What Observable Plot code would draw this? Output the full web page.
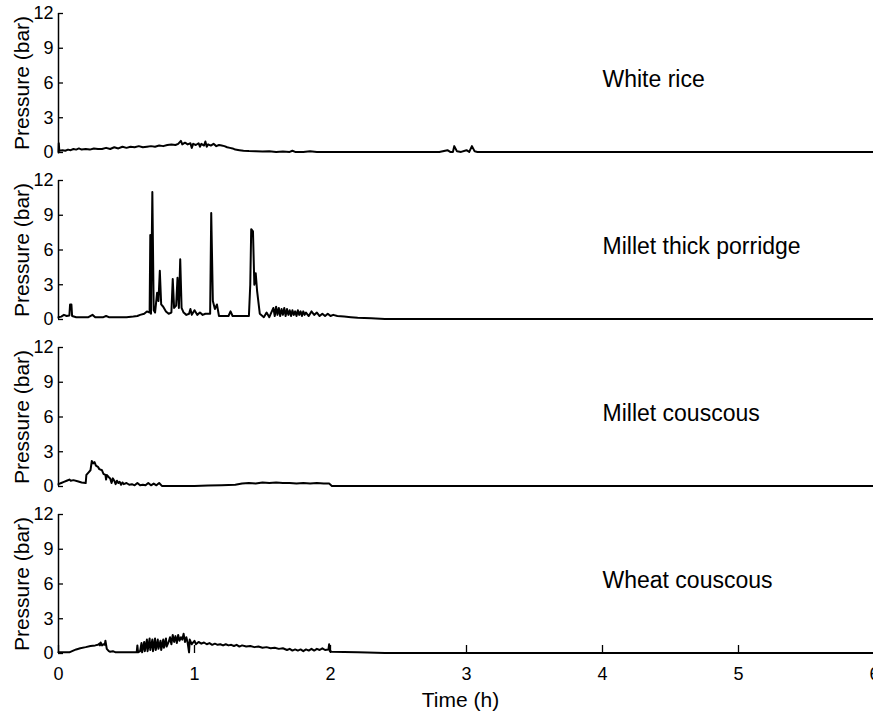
<!DOCTYPE html>
<html>
<head>
<meta charset="utf-8">
<script src="https://cdn.jsdelivr.net/npm/d3@7"></script>
<script src="https://cdn.jsdelivr.net/npm/@observablehq/plot@0.6"></script>
<style>
  html, body { margin: 0; padding: 0; background: #fff; overflow: hidden; }
  #chart svg { display: block; max-width: none !important; }
</style>
</head>
<body>
<div id="chart"></div>
<script>
const foods = ["White rice", "Millet thick porridge", "Millet couscous", "Wheat couscous"];
const timeTicks = [0, 1, 2, 3, 4, 5, 6];
const pressureTicks = [0, 3, 6, 9, 12];

// White rice
const riceT = [0.000,0.002,0.006,0.03,0.05,0.07,0.09,0.11,0.13,0.15,0.17,0.20,0.23,0.26,0.29,0.32,0.35,0.38,0.41,0.44,0.47,0.50,0.53,0.56,0.59,0.62,0.65,0.68,0.71,0.74,0.77,0.80,0.83,0.86,0.88,0.90,0.91,0.93,0.95,0.97,0.98,0.99,1.01,1.03,1.04,1.05,1.07,1.08,1.09,1.10,1.12,1.14,1.16,1.18,1.20,1.22,1.24,1.26,1.28,1.30,1.33,1.36,1.40,1.45,1.50,1.55,1.60,1.65,1.70,1.72,1.74,1.80,1.85,1.90,2.00,2.20,2.50,2.80,2.86,2.88,2.90,2.91,2.93,2.96,3.00,3.02,3.04,3.06,3.08,3.50,4.0,5.0,6.0];
const riceP = [0.0,0.8,0.15,0.2,0.15,0.25,0.2,0.3,0.25,0.35,0.25,0.3,0.25,0.35,0.3,0.3,0.4,0.3,0.45,0.35,0.5,0.4,0.5,0.45,0.55,0.45,0.5,0.55,0.5,0.6,0.55,0.65,0.7,0.65,0.75,1.0,0.7,0.85,0.7,0.8,0.4,0.75,0.65,0.8,0.5,0.75,0.6,0.95,0.5,0.7,0.6,0.75,0.55,0.65,0.6,0.55,0.45,0.4,0.35,0.25,0.2,0.15,0.12,0.1,0.08,0.1,0.05,0.08,0.05,0.15,0.05,0.05,0.1,0.05,0.05,0.04,0.04,0.04,0.2,0.05,0.05,0.55,0.1,0.05,0.2,0.05,0.55,0.1,0.05,0.04,0.04,0.04,0.04];

// Millet thick porridge
const porridgeT = [0.000,0.02,0.04,0.06,0.08,0.085,0.095,0.10,0.13,0.18,0.22,0.25,0.27,0.33,0.35,0.37,0.45,0.50,0.55,0.58,0.60,0.63,0.65,0.67,0.675,0.68,0.69,0.70,0.71,0.725,0.735,0.745,0.755,0.77,0.79,0.81,0.83,0.84,0.85,0.865,0.875,0.885,0.895,0.905,0.92,0.94,0.96,0.97,0.98,1.00,1.02,1.04,1.06,1.08,1.10,1.115,1.123,1.135,1.15,1.165,1.18,1.22,1.25,1.265,1.28,1.35,1.40,1.41,1.417,1.43,1.44,1.45,1.46,1.48,1.51,1.53,1.55,1.58,1.59,1.60,1.61,1.62,1.63,1.64,1.65,1.66,1.67,1.68,1.69,1.70,1.71,1.72,1.73,1.74,1.75,1.76,1.77,1.78,1.79,1.80,1.81,1.82,1.84,1.86,1.88,1.90,1.92,1.94,1.96,1.98,2.00,2.02,2.05,2.10,2.15,2.20,2.30,2.40,3.0,4.0,5.0,6.0];
const porridgeP = [0.2,0.25,0.4,0.3,0.35,1.3,1.3,0.3,0.2,0.2,0.2,0.4,0.2,0.2,0.3,0.2,0.2,0.2,0.25,0.3,0.4,0.5,0.7,0.6,7.3,0.5,11.0,0.8,0.6,2.3,1.6,4.2,1.3,1.1,0.7,0.5,0.6,3.5,1.0,1.2,3.6,1.0,5.2,1.0,0.6,0.4,0.5,0.9,0.4,0.8,0.4,0.6,0.4,0.5,0.5,0.5,9.2,1.6,0.9,1.3,0.3,0.3,0.3,0.7,0.3,0.3,0.3,3.0,7.8,7.6,3.0,4.0,2.5,0.5,0.2,0.6,0.2,1.0,0.3,1.1,0.4,1.0,0.3,0.9,0.4,1.0,0.3,0.9,0.4,0.8,0.3,0.8,0.4,0.7,0.3,0.8,0.4,0.7,0.3,0.7,0.4,0.6,0.3,0.7,0.4,0.6,0.3,0.5,0.3,0.5,0.3,0.4,0.3,0.25,0.2,0.15,0.1,0.05,0.05,0.05,0.05,0.05];

// Millet couscous
const milletCousT = [0.000,0.02,0.04,0.06,0.08,0.09,0.11,0.14,0.17,0.20,0.205,0.22,0.235,0.245,0.255,0.265,0.275,0.29,0.30,0.32,0.33,0.345,0.35,0.355,0.37,0.38,0.39,0.40,0.41,0.42,0.43,0.44,0.45,0.46,0.47,0.48,0.50,0.52,0.54,0.56,0.58,0.60,0.62,0.64,0.66,0.68,0.70,0.72,0.74,0.76,0.80,0.90,1.00,1.10,1.20,1.25,1.30,1.35,1.40,1.45,1.50,1.55,1.60,1.65,1.70,1.75,1.80,1.85,1.90,1.95,1.99,2.01,2.50,3.0,4.0,5.0,6.0];
const milletCousP = [0.2,0.3,0.4,0.5,0.6,0.5,0.55,0.45,0.35,0.3,1.0,1.2,1.4,2.2,2.0,2.1,1.8,1.7,1.5,1.4,1.1,1.0,0.6,1.0,0.8,0.7,0.3,0.7,0.5,0.2,0.5,0.3,0.4,0.15,0.35,0.2,0.3,0.15,0.2,0.1,0.3,0.1,0.15,0.1,0.3,0.1,0.25,0.1,0.3,0.05,0.05,0.05,0.05,0.08,0.1,0.12,0.15,0.25,0.3,0.25,0.35,0.3,0.35,0.3,0.3,0.25,0.3,0.25,0.3,0.25,0.25,0.05,0.05,0.05,0.05,0.05,0.05];

// Wheat couscous
const wheatCousT = [0.000,0.05,0.08,0.10,0.13,0.16,0.20,0.235,0.27,0.29,0.30,0.305,0.31,0.32,0.33,0.34,0.345,0.355,0.37,0.38,0.40,0.42,0.45,0.50,0.55,0.575,0.58,0.585,0.60,0.61,0.615,0.63,0.635,0.65,0.655,0.67,0.675,0.69,0.695,0.71,0.715,0.73,0.735,0.75,0.755,0.77,0.775,0.79,0.795,0.81,0.82,0.83,0.84,0.85,0.86,0.87,0.88,0.89,0.90,0.91,0.92,0.93,0.94,0.95,0.96,0.965,0.98,1.00,1.01,1.03,1.05,1.07,1.09,1.11,1.13,1.15,1.17,1.19,1.21,1.23,1.25,1.27,1.29,1.31,1.33,1.35,1.38,1.41,1.44,1.47,1.50,1.53,1.56,1.59,1.62,1.65,1.68,1.70,1.72,1.74,1.76,1.78,1.80,1.82,1.84,1.86,1.88,1.90,1.92,1.94,1.96,1.985,1.99,1.995,2.01,2.10,2.20,2.27,2.40,3.0,4.0,5.0,6.0];
const wheatCousP = [0.1,0.1,0.1,0.2,0.35,0.45,0.55,0.65,0.7,0.75,0.85,0.7,0.95,0.7,0.8,0.75,1.1,0.4,0.2,0.15,0.2,0.1,0.1,0.1,0.1,0.1,0.7,0.1,0.2,0.9,0.1,1.0,0.2,1.2,0.2,1.3,0.3,1.2,0.2,1.3,0.3,1.2,0.4,1.1,0.3,1.2,0.5,1.3,0.6,1.0,1.4,0.8,1.6,1.0,1.5,0.9,1.6,1.1,1.4,1.2,1.7,1.0,1.4,0.9,0.1,1.2,0.8,1.1,0.8,1.0,0.85,0.95,0.8,0.9,0.75,0.85,0.75,0.8,0.7,0.8,0.7,0.75,0.65,0.75,0.6,0.7,0.6,0.65,0.55,0.6,0.5,0.55,0.45,0.5,0.4,0.45,0.3,0.4,0.25,0.35,0.25,0.35,0.2,0.35,0.25,0.4,0.25,0.4,0.3,0.45,0.3,0.35,0.8,0.2,0.15,0.12,0.1,0.08,0.05,0.05,0.05,0.05,0.05];

const seriesT = [riceT, porridgeT, milletCousT, wheatCousT];
const seriesP = [riceP, porridgeP, milletCousP, wheatCousP];

const rows = [];
foods.forEach((food, i) => {
  seriesT[i].forEach((t, j) => rows.push({food, t, p: seriesP[i][j]}));
});

const yTitle = "Pressure (bar)";
const xTitle = "Time (h)";

const chart = Plot.plot({
  width: 880,
  height: 711,
  marginTop: 13,
  marginBottom: 58,
  marginLeft: 58,
  marginRight: 6,
  style: {fontFamily: "'Liberation Sans', Arial, sans-serif", fontSize: "17px", background: "white", color: "black"},
  x: {domain: [0, 6]},
  y: {domain: [0, 12]},
  fy: {domain: foods, paddingInner: 0.168, paddingOuter: 0, axis: null, label: null},
  marks: [
    Plot.axisY(pressureTicks, {tickSize: -5, tickPadding: 10, label: null, tickFormat: d3.format("d"), fontSize: 18, strokeWidth: 1.3}),
    Plot.axisX(timeTicks, {tickSize: -8, tickPadding: 22, label: null, tickFormat: d3.format("d"), fontSize: 18, strokeWidth: 1.3}),
    Plot.ruleX([0], {strokeWidth: 1.5, stroke: "black"}),
    Plot.lineY(rows, {x: "t", y: "p", fy: "food", z: "food", stroke: "black", strokeWidth: 2}),
    Plot.text(foods, {fy: d => d, x: () => 4, y: () => 6.3, text: d => d, textAnchor: "start", fontSize: 23}),
    Plot.text(foods, {fy: d => d, x: () => 0, y: () => 6, dx: -36, rotate: -90, textAnchor: "middle", lineAnchor: "middle", text: () => yTitle, fontSize: 21}),
    Plot.text([xTitle], {fy: () => foods[3], x: () => 3, y: () => 0, dy: 47, dx: -6, textAnchor: "middle", lineAnchor: "middle", text: d => d, fontSize: 21})
  ]
});
document.getElementById("chart").appendChild(chart);
</script>
</body>
</html>
